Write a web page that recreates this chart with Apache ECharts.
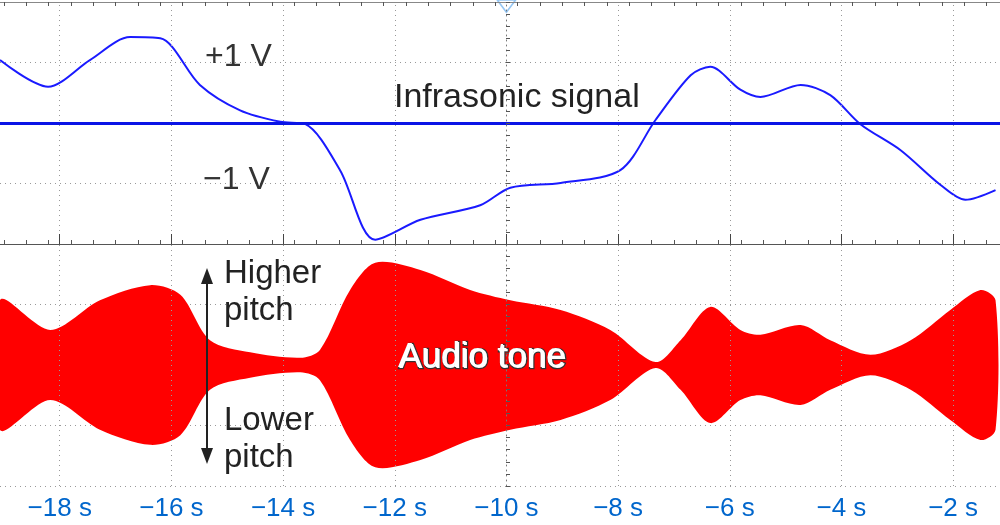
<!DOCTYPE html>
<html>
<head>
<meta charset="utf-8">
<script src="https://cdn.jsdelivr.net/npm/echarts@6/dist/echarts.min.js"></script>
<style>
    html, body { margin: 0; padding: 0; background: #fff; }
    #main { width: 1000px; height: 525px; }
</style>
</head>
<body>
<div id="main"></div>
<script>
    // 次声信号 (秒, 伏)
    var sigTime = [-19.07, -18.21, -17.46, -16.74, -16.20, -15.49, -14.77, -14.05, -13.60, -12.98, -12.35, -11.54, -10.47, -9.93, -9.03, -7.96, -7.33, -6.70, -6.35, -5.81, -5.45, -4.73, -4.20, -3.66, -2.94, -2.23, -1.78, -1.24];
    var sigVolt = [1.04, 0.60, 1.04, 1.42, 1.40, 0.63, 0.21, 0.02, -0.02, -0.78, -1.93, -1.60, -1.36, -1.07, -0.99, -0.78, 0.05, 0.79, 0.93, 0.55, 0.43, 0.63, 0.46, -0.02, -0.45, -1.02, -1.27, -1.11];

    // 音频包络 (秒, 半幅 格)
    var audTime = [-19.07, -18.17, -17.28, -16.38, -15.84, -15.31, -14.59, -13.69, -13.34, -12.80, -12.35, -11.54, -10.65, -9.93, -9.03, -8.14, -7.33, -6.88, -6.35, -5.81, -5.45, -4.73, -4.20, -3.48, -2.76, -2.05, -1.51, -1.24];
    var audAmp = [1.07, 0.58, 1.07, 1.32, 1.16, 0.41, 0.21, 0.12, 0.25, 1.24, 1.69, 1.57, 1.24, 1.07, 0.91, 0.58, 0.05, 0.41, 0.96, 0.58, 0.50, 0.66, 0.41, 0.17, 0.41, 0.91, 1.24, 1.07];

    var xLabels = [-18, -16, -14, -12, -10, -8, -6, -4, -2];
    var minorTicks = [];
    for (var t = -19.0; t <= -1.2; t += 0.4) minorTicks.push(Math.round(t * 10) / 10);

    var T0 = -19.07, T1 = -1.16;
    var SIG_ZERO = 2, AUD_ZERO = -2;

    var myChart = echarts.init(document.getElementById('main'));

    var sigData = sigTime.map(function (t, i) { return [t, sigVolt[i] + SIG_ZERO]; });
    var audData = audTime.map(function (t, i) { return [t, audAmp[i]]; });

    var font = 'Liberation Sans';

    option = {
        animation: false,
        backgroundColor: '#fff',
        grid: { left: 0, right: 0, top: 2, bottom: 39 },
        xAxis: [{
            type: 'value', min: T0, max: T1, z: 10,
            axisLine: { lineStyle: { color: '#444' } },
            axisTick: { customValues: xLabels, inside: true, length: 10, lineStyle: { color: '#444' } },
            axisLabel: {
                customValues: xLabels, color: '#0066cc', fontSize: 26, fontFamily: font,
                margin: 10, formatter: function (v) { return '\u2212' + Math.abs(v) + ' s'; }
            },
            splitLine: { show: false }
        }, {
            type: 'value', min: T0, max: T1, position: 'bottom', offset: -242, z: 10,
            axisLine: { lineStyle: { color: '#555' } },
            axisTick: { customValues: minorTicks, length: 4, inside: true, lineStyle: { color: '#555' } },
            axisLabel: { show: false }, splitLine: { show: false }
        }, {
            type: 'value', min: T0, max: T1, position: 'top', z: 10,
            axisLine: { lineStyle: { color: '#888' } },
            axisTick: { customValues: minorTicks, length: 4, inside: true, lineStyle: { color: '#555' } },
            axisLabel: { show: false }, splitLine: { show: false }
        }],
        yAxis: [{
            type: 'value', min: -4, max: 4, interval: 1,
            axisLine: { show: false }, axisTick: { show: false }, axisLabel: { show: false },
            splitLine: { lineStyle: { color: '#999', type: [1, 4] } }
        }, {
            type: 'value', min: -4, max: 4, interval: 0.2, position: 'left', offset: -506, z: 10,
            axisLine: { show: true, lineStyle: { color: '#777', type: [1, 4] } },
            axisTick: { inside: true, length: 4, lineStyle: { color: '#555' } },
            axisLabel: { show: false }, splitLine: { show: false }
        }],
        series: [{
            // 竖向网格线
            type: 'line', data: [], xAxisIndex: 0,
            markLine: {
                silent: true, symbol: 'none', label: { show: false },
                lineStyle: { color: '#999', type: [1, 4], width: 1 },
                data: xLabels.map(function (v) { return { xAxis: v }; })
            }
        }, {
            // 音频包络带
            type: 'custom', data: audData, z: 3,
            renderItem: function (params, api) {
                if (params.dataIndex !== 0) return;
                var up = [], lo = [];
                for (var i = 0; i < audData.length; i++) {
                    up.push(api.coord([audData[i][0], AUD_ZERO + audData[i][1]]));
                    lo.unshift(api.coord([audData[i][0], AUD_ZERO - audData[i][1]]));
                }
                return {
                    type: 'polygon', shape: { points: up.concat(lo), smooth: 0.3 },
                    style: { fill: '#ff0000' }
                };
            }
        }, {
            type: 'line', data: sigData, symbol: 'none', smooth: 0.3, z: 4,
            lineStyle: { color: '#1a1aff', width: 2 },
            markLine: {
                silent: true, symbol: 'none', label: { show: false },
                lineStyle: { color: '#0a14e6', width: 3, type: 'solid' },
                data: [{ yAxis: SIG_ZERO }]
            }
        }, {
            type: 'scatter', data: [[-10, 3.93]], symbol: 'triangle', symbolRotate: 180, symbolSize: [18, 12], z: 5,
            itemStyle: { color: '#fff', borderColor: '#7ab8f0', borderWidth: 1.5 }
        }],
        graphic: [
            { type: 'text', z: 100, left: 205, top: 41, style: { text: '+1 V', fontSize: 32, fill: '#333', fontFamily: font } },
            { type: 'text', z: 100, left: 203, top: 164, style: { text: '\u22121 V', fontSize: 32, fill: '#333', fontFamily: font } },
            { type: 'text', z: 100, left: 394, top: 81, style: { text: 'Infrasonic signal', fontSize: 34, fill: '#222', fontFamily: font } },
            { type: 'text', z: 100, left: 224, top: 255, style: { text: 'Higher\npitch', fontSize: 33, lineHeight: 37, fill: '#222', fontFamily: font } },
            { type: 'text', z: 100, left: 224, top: 402, style: { text: 'Lower\npitch', fontSize: 33, lineHeight: 37, fill: '#222', fontFamily: font } },
            { type: 'text', z: 100, left: 398, top: 340, style: { text: 'Audio tone', fontSize: 35, fill: '#fff', stroke: '#333', lineWidth: 2.5, fontFamily: font } },
            { type: 'text', z: 101, left: 398, top: 340, style: { text: 'Audio tone', fontSize: 35, fill: '#fff', fontFamily: font } },
            { type: 'line', z: 100, shape: { x1: 207, y1: 282, x2: 207, y2: 450 }, style: { stroke: '#222', lineWidth: 2 } },
            { type: 'polygon', z: 100, shape: { points: [[201, 284], [213, 284], [207, 268]] }, style: { fill: '#222' } },
            { type: 'polygon', z: 100, shape: { points: [[201, 448], [213, 448], [207, 464]] }, style: { fill: '#222' } }
        ]
    };

    myChart.setOption(option);
</script>
</body>
</html>
